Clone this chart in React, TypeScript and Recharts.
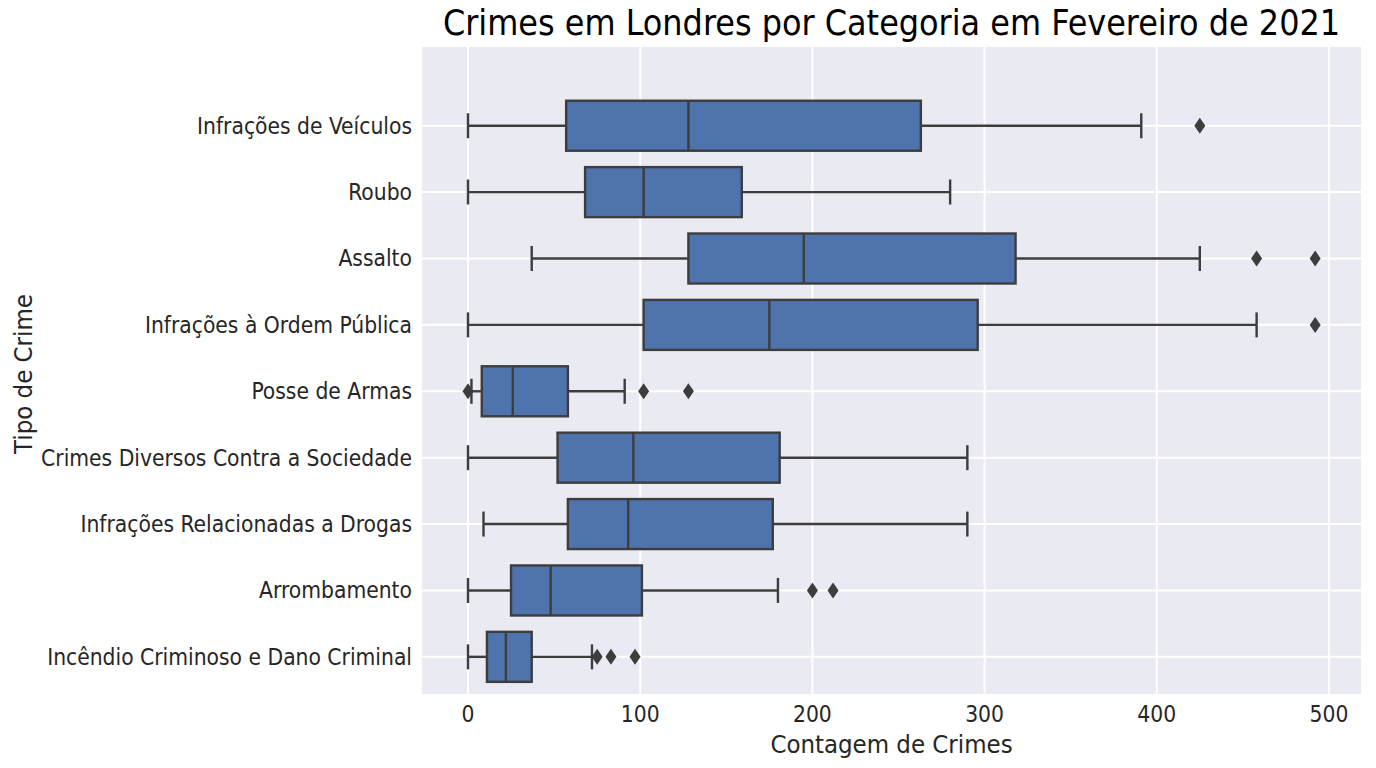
import { ComposedChart, Bar, XAxis, YAxis, CartesianGrid } from 'recharts'

const categories = [
  'Infrações de Veículos',
  'Roubo',
  'Assalto',
  'Infrações à Ordem Pública',
  'Posse de Armas',
  'Crimes Diversos Contra a Sociedade',
  'Infrações Relacionadas a Drogas',
  'Arrombamento',
  'Incêndio Criminoso e Dano Criminal',
]
const whiskerLow = [0, 0, 37, 0, 2, 0, 9, 0, 0]
const q1 = [57, 68, 128, 102, 8, 52, 58, 25, 11]
const median = [128, 102, 195, 175, 26, 96, 93, 48, 22]
const q3 = [263, 159, 318, 296, 58, 181, 177, 101, 37]
const whiskerHigh = [391, 280, 425, 458, 91, 290, 290, 180, 72]
const outliers = [[425], [], [458, 492], [492], [0, 102, 128], [], [], [200, 212], [75, 83, 97]]
const xTicks = [0, 100, 200, 300, 400, 500]

const rows = categories.map((name, i) => ({
  name,
  lo: whiskerLow[i],
  q1: q1[i],
  med: median[i],
  q3: q3[i],
  hi: whiskerHigh[i],
  out: outliers[i],
}))

const FONT = '"DejaVu Sans Condensed", "DejaVu Sans", sans-serif'
const EDGE = '#3d3d3d'
const FILL = '#4e73ad'
const TEXT = '#262626'

// whole box drawn from the bar's [lo, hi] pixel span
function BoxShape(props: any) {
  const { x, y, width, height, payload } = props
  const { lo, hi } = payload
  const px = (v: number) => x + ((v - lo) / (hi - lo)) * width
  const cy = y + height / 2
  const cap = height / 4
  const sw = 2.4
  return (
    <g>
      <line x1={px(lo)} x2={px(payload.q1)} y1={cy} y2={cy} stroke={EDGE} strokeWidth={sw} />
      <line x1={px(payload.q3)} x2={px(hi)} y1={cy} y2={cy} stroke={EDGE} strokeWidth={sw} />
      <line x1={px(lo)} x2={px(lo)} y1={cy - cap} y2={cy + cap} stroke={EDGE} strokeWidth={sw} />
      <line x1={px(hi)} x2={px(hi)} y1={cy - cap} y2={cy + cap} stroke={EDGE} strokeWidth={sw} />
      <rect
        x={px(payload.q1)}
        y={y}
        width={px(payload.q3) - px(payload.q1)}
        height={height}
        fill={FILL}
        stroke={EDGE}
        strokeWidth={sw}
      />
      <line x1={px(payload.med)} x2={px(payload.med)} y1={y} y2={y + height} stroke={EDGE} strokeWidth={sw} />
      {payload.out.map((v: number, k: number) => {
        const ox = px(v)
        return (
          <polygon
            key={k}
            points={`${ox},${cy - 8} ${ox + 5.5},${cy} ${ox},${cy + 8} ${ox - 5.5},${cy}`}
            fill={EDGE}
          />
        )
      })}
    </g>
  )
}

export default function App() {
  return (
    <div style={{ position: 'relative', width: 1360, height: 752, fontFamily: FONT, color: TEXT }}>
      <div
        style={{
          position: 'absolute',
          left: 883.5,
          top: 15,
          transform: 'translate(-50%, -50%)',
          fontSize: 35.5,
          lineHeight: 1,
          whiteSpace: 'nowrap',
          color: '#000',
        }}
      >
        Crimes em Londres por Categoria em Fevereiro de 2021
      </div>
      <div
        style={{
          position: 'absolute',
          left: 16,
          top: 366,
          transform: 'translate(-50%, -50%) rotate(-90deg)',
          fontSize: 25.5,
          lineHeight: 1,
          whiteSpace: 'nowrap',
        }}
      >
        Tipo de Crime
      </div>
      <div
        style={{
          position: 'absolute',
          left: 883.5,
          top: 737,
          transform: 'translate(-50%, -50%)',
          fontSize: 25.5,
          lineHeight: 1,
          whiteSpace: 'nowrap',
        }}
      >
        Contagem de Crimes
      </div>
      <ComposedChart
        width={1360}
        height={752}
        data={rows}
        layout="vertical"
        margin={{ top: 38, right: 6, bottom: 35, left: 0 }}
        barCategoryGap="12.4%"
      >
        <CartesianGrid stroke="#ffffff" strokeWidth={2} fill="#eaeaf2" />
        <XAxis
          type="number"
          domain={[-27.3, 519.2]}
          ticks={xTicks}
          allowDataOverflow
          axisLine={false}
          tickLine={false}
          tickSize={6}
          tickMargin={5}
          height={30}
          tick={{ fill: TEXT, fontSize: 22.6, fontFamily: FONT }}
        />
        <YAxis
          type="category"
          dataKey="name"
          width={413}
          axisLine={false}
          tickLine={false}
          tickSize={6}
          tickMargin={3}
          padding={{ top: 46.5, bottom: 5 }}
          interval={0}
          tick={{ fill: TEXT, fontSize: 22.6, fontFamily: FONT }}
        />
        <Bar dataKey={(d: any) => [d.lo, d.hi]} shape={BoxShape} isAnimationActive={false} />
      </ComposedChart>
    </div>
  )
}
